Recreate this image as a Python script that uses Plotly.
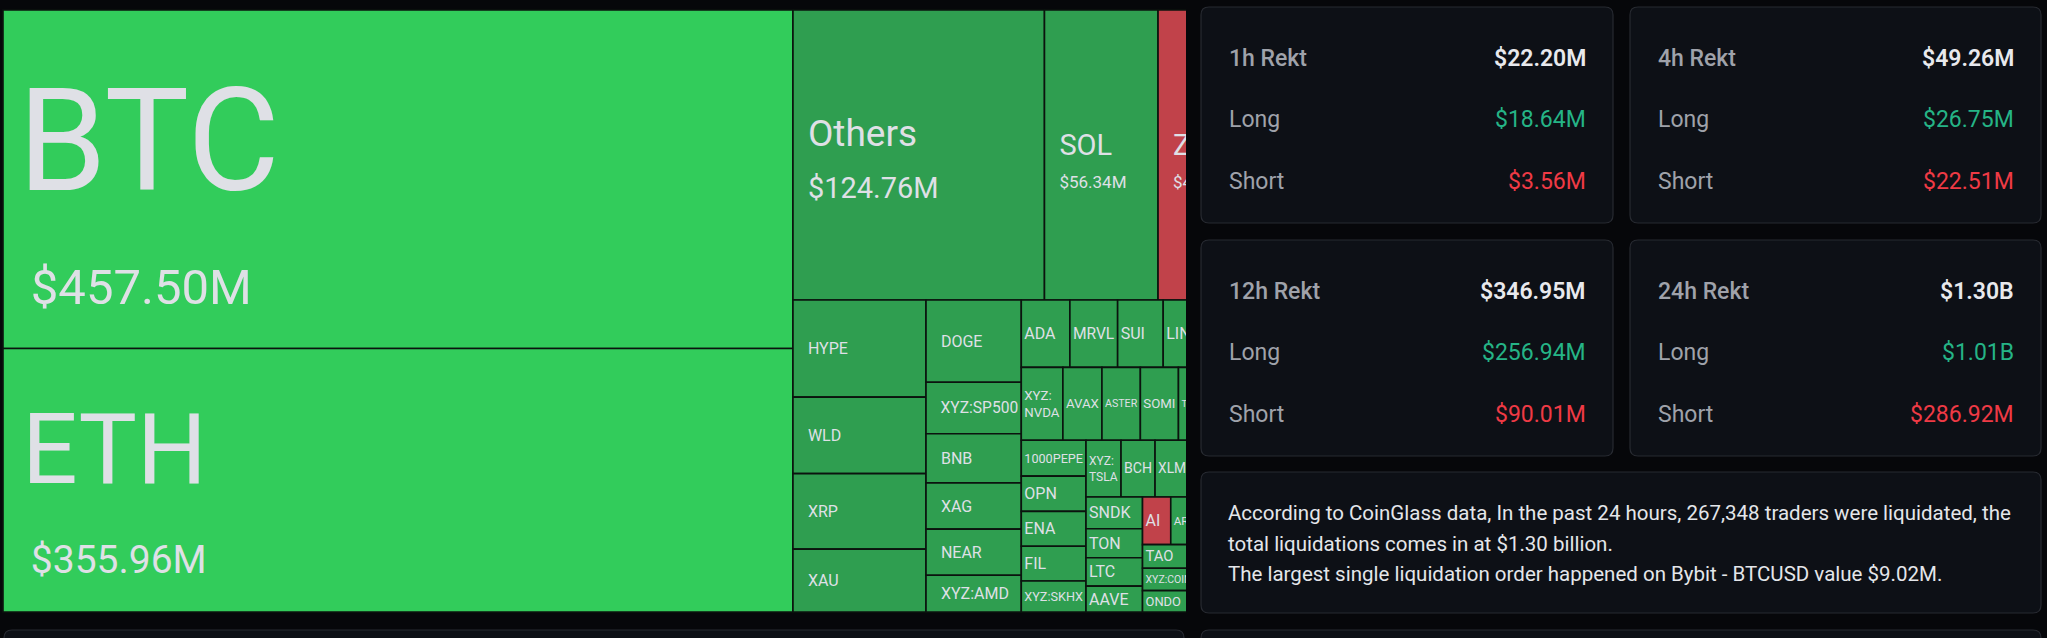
import plotly.graph_objects as go

PAGE_W, PAGE_H = 2047, 638

# 24h liquidations by coin, $M (right-hand tiles are cut off in the source)
coins = ["BTC", "ETH", "Others", "SOL", "ZEC",
         "HYPE", "WLD", "XRP", "XAU",
         "DOGE", "XYZ:SP500", "BNB", "XAG", "NEAR", "XYZ:AMD",
         "ADA", "MRVL", "SUI", "LINK", "PUMP",
         "XYZ:NVDA", "AVAX", "ASTER", "SOMI", "TRUMP", "FARTCOIN",
         "1000PEPE", "OPN", "ENA", "FIL", "XYZ:SKHX",
         "XYZ:TSLA", "BCH", "XLM", "WIF", "APT",
         "SNDK", "TON", "LTC", "AAVE",
         "AI", "ARB", "LDO", "ENS",
         "TAO", "XYZ:COIN", "ONDO",
         "CRV", "ETC", "DOT", "UNI", "OP"]
values = [457.50, 355.96, 124.76, 56.34, 47.6,
          22.1, 17.4, 17.2, 14.3,
          13.4, 8.4, 8.0, 7.55, 7.5, 6.0,
          5.6, 5.5, 5.25, 5.24, 5.22,
          5.19, 4.87, 4.79, 4.75, 4.72, 4.7,
          3.97, 3.9, 3.86, 3.85, 3.43,
          3.4, 3.3, 3.3, 3.2, 3.1,
          3.07, 2.8, 2.75, 2.5,
          2.3, 2.28, 2.26, 2.24,
          2.1, 2.0, 1.9,
          1.7, 1.5, 1.3, 1.2, 1.15]
# which side dominated
sides = ["long_hi", "long_hi", "long", "long", "short",
         "long", "long", "long", "long",
         "long", "long", "long", "long", "long", "long",
         "long", "long", "long", "long", "long",
         "long", "long", "long", "long", "long", "long",
         "long", "long", "long", "long", "long",
         "long", "long", "long", "long", "long",
         "long", "long", "long", "long",
         "short", "long", "long", "long",
         "long", "long", "long",
         "long", "long", "long", "long", "long"]

periods = ["1h", "4h", "12h", "24h"]
total_rekt = ["$22.20M", "$49.26M", "$346.95M", "$1.30B"]
long_rekt = ["$18.64M", "$26.75M", "$256.94M", "$1.01B"]
short_rekt = ["$3.56M", "$22.51M", "$90.01M", "$286.92M"]

summary_lines = [
    "According to CoinGlass data, In the past 24 hours, 267,348 traders were liquidated, the",
    "total liquidations comes in at $1.30 billion.",
    "The largest single liquidation order happened on Bybit - BTCUSD value $9.02M.",
]

BG = "#06070a"
CARD = "#0d1016"
CARD_EDGE = "#272a31"
SIDE_COLORS = {"long_hi": "#32cc5b", "long": "#2f9e50", "short": "#c1424a"}
TILE_TEXT = "#dfe0e6"
FONT = "Roboto"

# label styling for the big tiles:
# name px, value px, base px (sets line gap), name pad px, value pad px, top spacer px
BIG = {
    "BTC": (142, 49, 88, 48, 100, 49),
    "ETH": (98, 39, 69, 64, 100, 32),
    "Others": (37, 29, 40, 48, 48, 0),
    "SOL": (29, 17, 26, 48, 48, 0),
    "ZEC": (29, 17, 26, 48, 48, 0),
}
# tall narrow tiles: break the market prefix onto its own line
WRAP = {"XYZ:NVDA", "XYZ:TSLA"}


def px(x):
    return x / PAGE_W


def py(y):
    return 1 - y / PAGE_H


def nb(size):
    return f"<span style='font-size:{size}px'>\u00a0</span>"


texts, tsizes = [], []
for c, v in zip(coins, values):
    if c in BIG:
        n, s, base, npad, vpad, lift = BIG[c]
        top = (nb(lift) + "<br>") if lift else ""
        texts.append(f"{top}{nb(npad)}<span style='font-size:{n}px'>{c}</span><br>"
                     f"{nb(vpad)}<span style='font-size:{s}px'>${v:.2f}M</span>")
        tsizes.append(base)
    else:
        label = c.replace(":", ":<br>") if c in WRAP else c
        # narrow tiles get no indent so the name shrinks less
        texts.append(("\u00a0\u00a0\u00a0" if v >= 6 else "") + label)
        tsizes.append(16)

fig = go.Figure(go.Treemap(
    labels=coins,
    parents=[""] * len(coins),
    values=values,
    text=texts,
    textinfo="text",
    textposition="middle left",
    textfont=dict(family=FONT, color=TILE_TEXT, size=tsizes),
    marker=dict(colors=[SIDE_COLORS[s] for s in sides],
                line=dict(width=1.6, color="#0b130e"),
                pad=dict(t=0, l=0, r=0, b=0)),
    tiling=dict(packing="squarify", squarifyratio=1.618, pad=0),
    pathbar=dict(visible=False),
    sort=True,
    hoverinfo="label+value",
    domain=dict(x=[px(3), px(1254)], y=[py(612), py(10)]),
))


def rounded(x0, y0, x1, y1, r=8, fill=CARD, edge=CARD_EDGE):
    path = (f"M {px(x0 + r)},{py(y0)} L {px(x1 - r)},{py(y0)} Q {px(x1)},{py(y0)} {px(x1)},{py(y0 + r)} "
            f"L {px(x1)},{py(y1 - r)} Q {px(x1)},{py(y1)} {px(x1 - r)},{py(y1)} "
            f"L {px(x0 + r)},{py(y1)} Q {px(x0)},{py(y1)} {px(x0)},{py(y1 - r)} "
            f"L {px(x0)},{py(y0 + r)} Q {px(x0)},{py(y0)} {px(x0 + r)},{py(y0)} Z")
    return dict(type="path", xref="paper", yref="paper", path=path, layer="above",
                fillcolor=fill, line=dict(color=edge, width=1.2))


shapes = [
    # the panel clips the heatmap on the right
    dict(type="rect", xref="paper", yref="paper", x0=px(1186), x1=1.0, y0=0, y1=1,
         fillcolor=BG, line=dict(width=0), layer="above"),
]
annotations = []

cards = [(1201, 7, 1613, 223), (1630, 7, 2041, 223),
         (1201, 240, 1613, 456), (1630, 240, 2041, 456)]
for i, (x0, y0, x1, y1) in enumerate(cards):
    shapes.append(rounded(x0, y0, x1, y1))
    rows = [(f"{periods[i]} Rekt", total_rekt[i], "#e8e9ed", 500, 600),
            ("Long", long_rekt[i], "#25b486", 400, 400),
            ("Short", short_rekt[i], "#ef3a45", 400, 400)]
    for j, (lab, val, col, wl, wv) in enumerate(rows):
        yy = y0 + 51 + j * 61.5
        annotations.append(dict(x=px(x0 + 26), y=py(yy), xref="paper", yref="paper",
                                xanchor="left", yanchor="middle", showarrow=False, text=lab,
                                font=dict(family=FONT, size=23, color="#9fa2aa", weight=wl)))
        annotations.append(dict(x=px(x1 - 25), y=py(yy), xref="paper", yref="paper",
                                xanchor="right", yanchor="middle", showarrow=False, text=val,
                                font=dict(family=FONT, size=23, color=col, weight=wv)))

shapes.append(rounded(1201, 472, 2041, 613))
for k, line in enumerate(summary_lines):
    annotations.append(dict(x=px(1226), y=py(513 + k * 30.5), xref="paper", yref="paper",
                            xanchor="left", yanchor="middle", showarrow=False, text=line,
                            font=dict(family=FONT, size=20.5, color="#e4e6ea")))

# tops of the next row of panels
shapes.append(rounded(4, 630, 1184, 720))
shapes.append(rounded(1201, 630, 2041, 720))

fig.update_layout(
    width=PAGE_W, height=PAGE_H,
    margin=dict(l=0, r=0, t=0, b=0),
    paper_bgcolor=BG,
    plot_bgcolor=BG,
    shapes=shapes,
    annotations=annotations,
    showlegend=False,
)

fig.write_html("out.html", config={"displayModeBar": False},
               post_script="document.body.style.margin='0';document.body.style.background='#06070a';")
